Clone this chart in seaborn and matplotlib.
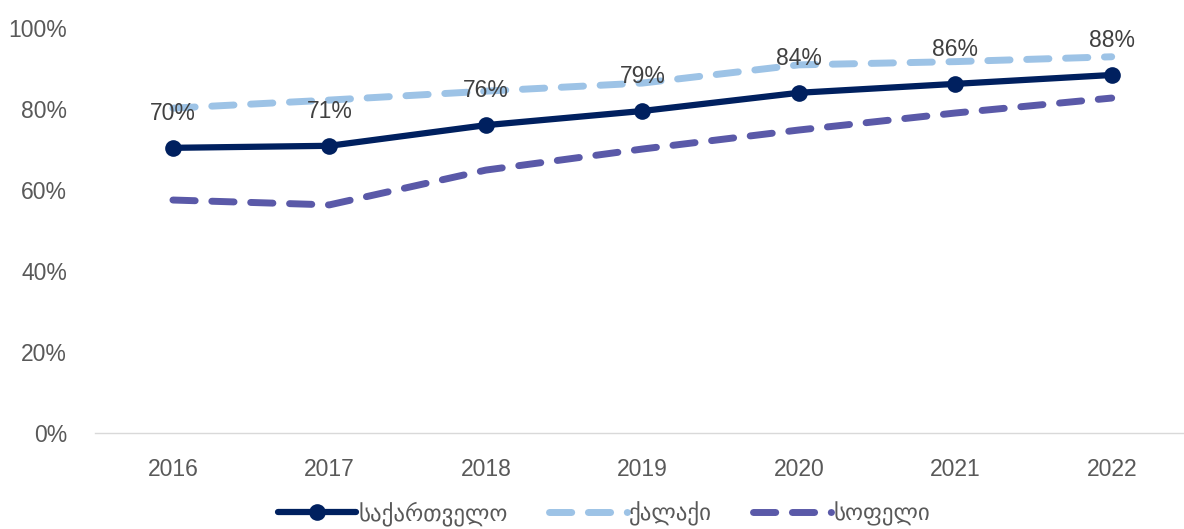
import matplotlib
matplotlib.use("Agg")
import matplotlib.pyplot as plt
import seaborn as sns
import pandas as pd
from matplotlib.ticker import PercentFormatter

years = ["2016", "2017", "2018", "2019", "2020", "2021", "2022"]
georgia = [0.704, 0.709, 0.760, 0.795, 0.840, 0.862, 0.884]
city = [0.802, 0.822, 0.844, 0.864, 0.909, 0.917, 0.929]
village = [0.575, 0.563, 0.649, 0.701, 0.748, 0.790, 0.827]
labels = ["70%", "71%", "76%", "79%", "84%", "86%", "88%"]
series_names = ["საქართველო", "ქალაქი", "სოფელი"]

sns.set_theme(style="white")
plt.rcParams['font.family'] = ['Liberation Sans', 'DejaVu Sans']

fig = plt.figure(figsize=(11.84, 5.29), dpi=100)
ax = fig.add_axes([0.080, 0.182, 0.925, 0.765])

df = pd.DataFrame({"year": years, "g": georgia, "c": city, "v": village})

sns.lineplot(data=df, x="year", y="c", ax=ax, color="#9DC3E6", linewidth=5,
             sort=False, label=series_names[1])
sns.lineplot(data=df, x="year", y="v", ax=ax, color="#5A59A8", linewidth=5,
             sort=False, label=series_names[2])
sns.lineplot(data=df, x="year", y="g", ax=ax, color="#00205F", linewidth=4.5,
             marker="o", markersize=12, markeredgewidth=0, sort=False,
             label=series_names[0])

lines = ax.get_lines()
for ln in lines[:2]:
    ln.set_dashes((3.2, 2.4))
    ln.set_dash_capstyle("round")
for ln in lines:
    ln.set_solid_capstyle("round")

for i, (v, t) in enumerate(zip(georgia, labels)):
    ax.annotate(t, (i, v), xytext=(0, 25), textcoords="offset points",
                ha="center", va="center", fontsize=16.5, color="#404040")

ax.set_xlim(-0.5, 6.5)
ax.set_ylim(0, 1.0)
ax.set_yticks([0, 0.2, 0.4, 0.6, 0.8, 1.0])
ax.yaxis.set_major_formatter(PercentFormatter(1.0, decimals=0))
ax.set_xlabel("")
ax.set_ylabel("")
ax.tick_params(axis="both", labelsize=16.5, colors="#595959", length=0)
ax.tick_params(axis="x", pad=18)
ax.tick_params(axis="y", pad=20)
for s in ["top", "right", "left"]:
    ax.spines[s].set_visible(False)
ax.spines["bottom"].set_color("#D9D9D9")
ax.spines["bottom"].set_linewidth(1)

h, l = ax.get_legend_handles_labels()
order = [2, 0, 1]
leg = ax.legend([h[i] for i in order], [l[i] for i in order],
                loc="center", bbox_to_anchor=(0.465, -0.2), ncol=3,
                frameon=False, fontsize=16.5, handlelength=3.4,
                columnspacing=1.8, handletextpad=0.1)
for t in leg.get_texts():
    t.set_color("#595959")

fig.savefig("out.png", dpi=100)
